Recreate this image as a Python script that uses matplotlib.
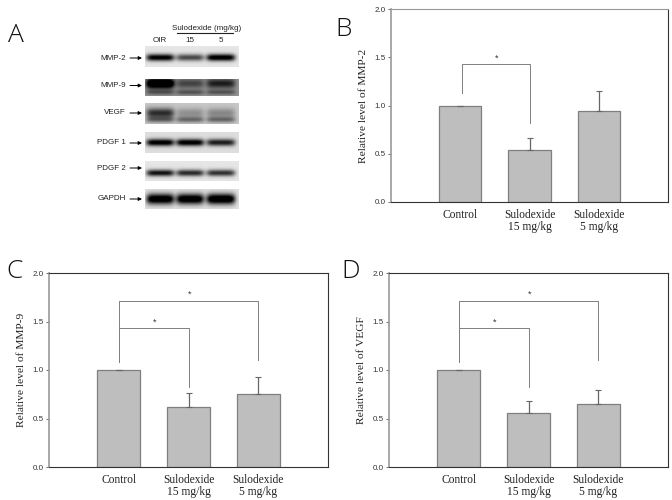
import numpy as np
import matplotlib
matplotlib.use("Agg")
import matplotlib.pyplot as plt

W, H = 672, 500
SERIF = "Liberation Serif"
SANS = "Liberation Sans"

groups = ["Control", "Sulodexide\n15 mg/kg", "Sulodexide\n5 mg/kg"]
yticks = [0.0, 0.5, 1.0, 1.5, 2.0]

mmp2_vals = [1.0, 0.54, 0.94]
mmp2_err = [0, 0.12, 0.21]
mmp9_vals = [1.0, 0.62, 0.75]
mmp9_err = [0, 0.14, 0.18]
vegf_vals = [1.0, 0.56, 0.65]
vegf_err = [0, 0.12, 0.14]

blot_names = ["MMP-2", "MMP-9", "VEGF", "PDGF 1", "PDGF 2", "GAPDH"]
blot_top = [46, 79, 103, 132, 161, 189]
blot_bottom = [67, 96, 124, 153, 181, 209]
blot_label_y = [58, 85.5, 113, 143, 168, 199]
blot_bg = [0.90, 0.58, 0.78, 0.87, 0.90, 0.88]
blot_levels = [[0.95, 0.62, 1.0], [0.95, 0.32, 0.48], [0.62, 0.22, 0.25],
               [0.95, 0.95, 0.78], [0.85, 0.75, 0.72], [1.05, 1.05, 1.1]]
blot_band_y = [0.55, 0.30, 0.48, 0.50, 0.60, 0.50]
blot_band_h = [0.17, 0.28, 0.24, 0.17, 0.17, 0.27]
blot_lower = [0, 0.25, 0.35, 0, 0, 0]
lane_x = [0.16, 0.48, 0.81]
lane_w = [0.15, 0.15, 0.155]


def box(left, top, right, bottom):
    return [left / W, 1 - bottom / H, (right - left) / W, (bottom - top) / H]


def ftext(x, y, s, **kw):
    fig.text(x / W, 1 - y / H, s, **kw)


def bar_panel(pos, vals, errs, ylabel, brackets):
    ax = fig.add_axes(box(*pos))
    ax.bar(range(3), vals, width=0.61, color="#bebebe", edgecolor="#7f7f7f", linewidth=0.9)
    ax.errorbar(range(3), vals, yerr=[[0, 0, 0], errs], fmt="none", ecolor="#666666",
                elinewidth=0.9, capsize=2.5, capthick=0.8)
    ax.set_xlim(-1, 3)
    ax.set_ylim(0, 2)
    ax.set_xticks(range(3))
    ax.set_xticklabels(groups, family=SERIF, fontsize=8.3, color="#222222", linespacing=1.0)
    ax.set_yticks(yticks)
    ax.set_yticklabels(["%.1f" % t for t in yticks], family=SANS, fontsize=5.8, color="#333333")
    ax.set_ylabel(ylabel, family=SERIF, fontsize=8.2, color="#222222", labelpad=4.5)
    ax.tick_params(axis="x", length=0, pad=5)
    ax.tick_params(axis="y", length=2, width=0.6, pad=2, color="#555555")
    for s in ax.spines.values():
        s.set_linewidth(0.8)
        s.set_color("#333333")
    ax.spines["left"].set_color("#999999")
    ax.spines["left"].set_linewidth(1.2)
    if pos[1] < 100:
        ax.spines["top"].set_color("#999999")
    for x0, y0, x1, y1, ytop, ystar in brackets:
        ax.plot([x0, x0, x1, x1], [y0, ytop, ytop, y1], color="#808080", lw=0.7)
        ax.text((x0 + x1) / 2 + 0.02, ystar, "*", ha="center", va="center",
                family=SANS, fontsize=6.5, color="#333333")
    return ax


fig = plt.figure(figsize=(W / 100, H / 100), dpi=100)

# blots
for i, name in enumerate(blot_names):
    ax = fig.add_axes(box(145, blot_top[i], 239, blot_bottom[i]))
    xx, yy = np.meshgrid(np.linspace(0, 1, 94), np.linspace(0, 1, 40))
    dark = np.zeros_like(xx)
    for c, w, lv in zip(lane_x, lane_w, blot_levels[i]):
        px = np.exp(-((xx - c) / w) ** 6)
        py = np.exp(-((yy - blot_band_y[i]) / blot_band_h[i]) ** 2)
        low = np.exp(-((yy - 0.8) / 0.14) ** 2)
        dark += lv * px * py + blot_lower[i] * px * low
    ax.imshow(np.clip(blot_bg[i] - dark, 0, 1), cmap="gray", vmin=0, vmax=1, aspect="auto")
    ax.axis("off")
    ftext(126, blot_label_y[i], name, family=SANS, fontsize=5.8, ha="right", va="center", color="#222222")
    fig.add_artist(matplotlib.patches.FancyArrowPatch(
        (130 / W, 1 - blot_label_y[i] / H), (142 / W, 1 - blot_label_y[i] / H),
        transform=fig.transFigure, arrowstyle="-|>", mutation_scale=5, lw=0.7, color="black",
        shrinkA=0, shrinkB=0))

ftext(207, 28, "Sulodexide (mg/kg)", family=SANS, fontsize=5.8, ha="center", va="center", color="#222222")
ftext(160, 40, "OIR", family=SANS, fontsize=5.8, ha="center", va="center", color="#222222")
ftext(190, 40, "15", family=SANS, fontsize=5.8, ha="center", va="center", color="#222222")
ftext(221, 40, "5", family=SANS, fontsize=5.8, ha="center", va="center", color="#222222")
fig.add_artist(plt.Line2D([177 / W, 233 / W], [1 - 33 / H, 1 - 33 / H], color="#222222", lw=0.8))

# bar panels
bar_panel((391, 9, 668, 202), mmp2_vals, mmp2_err, "Relative level of MMP-2",
          [(0.02, 1.13, 1.0, 0.82, 1.43, 1.49)])
bar_panel((49, 273, 328, 467), mmp9_vals, mmp9_err, "Relative level of MMP-9",
          [(0, 1.08, 1.0, 0.82, 1.43, 1.49), (0, 1.08, 2.0, 1.10, 1.71, 1.78)])
bar_panel((389, 273, 668, 467), vegf_vals, vegf_err, "Relative level of VEGF",
          [(0, 1.08, 1.0, 0.82, 1.43, 1.49), (0, 1.08, 2.0, 1.10, 1.71, 1.78)])

for letter, x, y in [("A", 8, 35), ("B", 335, 30), ("C", 6, 271), ("D", 341, 271)]:
    ftext(x, y, letter, family="Open Sans", weight="light", fontsize=19, ha="left", va="center", color="#111111")

fig.savefig("out.png", dpi=100)
